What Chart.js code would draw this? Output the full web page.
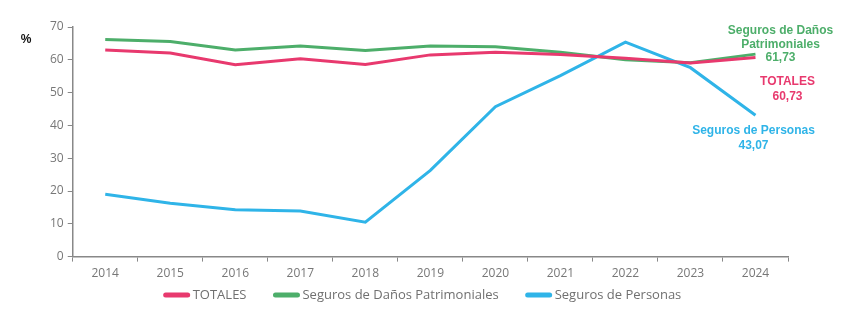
<!DOCTYPE html>
<html>
<head>
<meta charset="utf-8">
<script src="https://cdn.jsdelivr.net/npm/chart.js@4"></script>
<style>
  html, body { margin: 0; padding: 0; background: #fff; }
  #wrap { width: 860px; height: 333px; position: relative; }
</style>
</head>
<body>
<div id="wrap"><canvas id="c" width="860" height="333"></canvas></div>
<script>
const years = ['2014', '2015', '2016', '2017', '2018', '2019', '2020', '2021', '2022', '2023', '2024']
const totales = [63.0, 62.1, 58.5, 60.3, 58.6, 61.5, 62.3, 61.6, 60.5, 59.0, 60.73]
const danos = [66.2, 65.6, 63.0, 64.2, 62.8, 64.2, 64.0, 62.3, 60.0, 59.1, 61.73]
const personas = [19.0, 16.3, 14.3, 13.9, 10.5, 26.3, 45.7, 55.2, 65.4, 57.6, 43.07]

const RED = '#e8396e'
const GREEN = '#4dae6a'
const BLUE = '#2fb4e8'

// end-of-line labels, offset from the last point of each series
const endLabels = [
  { ds: 1, color: GREEN, dx: 25, lines: ['Seguros de Daños', 'Patrimoniales', '61,73'], top: 31, gap: 13.5 },
  { ds: 0, color: RED, dx: 32, lines: ['TOTALES', '60,73'], top: 82, gap: 15 },
  { ds: 2, color: BLUE, dx: -2, lines: ['Seguros de Personas', '43,07'], top: 131, gap: 15 },
]

const labelPlugin = {
  id: 'endLabels',
  afterDraw(chart) {
    const ctx = chart.ctx
    ctx.save()
    ctx.font = 'bold 12px "Liberation Sans", Arial, sans-serif'
    ctx.textAlign = 'center'
    ctx.textBaseline = 'middle'
    endLabels.forEach(l => {
      const pt = chart.getDatasetMeta(l.ds).data[years.length - 1]
      ctx.fillStyle = l.color
      l.lines.forEach((t, i) => {
        ctx.fillText(t, pt.x + l.dx, l.top + i * l.gap)
      })
    })
    ctx.fillStyle = '#111'
    ctx.fillText('%', 26, 40)
    ctx.restore()
  },
}

// legend row drawn under the axis (built-in one sits too far down)
const legendPlugin = {
  id: 'bottomLegend',
  afterDraw(chart) {
    const ctx = chart.ctx
    const sw = 26, gapText = 3, gapItem = 27, y = 295
    ctx.save()
    ctx.font = '13px "Open Sans", sans-serif'
    ctx.textBaseline = 'middle'
    const items = chart.data.datasets.map(d => ({ text: d.label, color: d.borderColor, w: ctx.measureText(d.label).width }))
    const total = items.reduce((s, it) => s + sw + gapText + it.w, 0) + gapItem * (items.length - 1)
    let x = 422.5 - total / 2
    items.forEach(it => {
      ctx.strokeStyle = it.color
      ctx.lineWidth = 5
      ctx.lineCap = 'round'
      ctx.beginPath()
      ctx.moveTo(x + 2, y)
      ctx.lineTo(x + sw - 2, y)
      ctx.stroke()
      ctx.fillStyle = '#707070'
      ctx.fillText(it.text, x + sw + gapText, y)
      x += sw + gapText + it.w + gapItem
    })
    ctx.restore()
  },
}

new Chart(document.getElementById('c'), {
  type: 'line',
  data: {
    labels: years,
    datasets: [
      { label: 'TOTALES', data: totales, borderColor: RED, backgroundColor: RED },
      { label: 'Seguros de Daños Patrimoniales', data: danos, borderColor: GREEN, backgroundColor: GREEN },
      { label: 'Seguros de Personas', data: personas, borderColor: BLUE, backgroundColor: BLUE },
    ],
  },
  options: {
    responsive: false,
    animation: false,
    layout: { padding: { left: 46, right: 72, top: 27, bottom: 47 } },
    elements: {
      line: { borderWidth: 3, tension: 0 },
      point: { radius: 0 },
    },
    plugins: {
      legend: { display: false },
      tooltip: { enabled: false },
    },
    scales: {
      x: {
        offset: true,
        grid: { display: true, drawOnChartArea: false, offset: true, tickLength: 5, color: '#888' },
        border: { color: '#888', width: 1.5 },
        ticks: { color: '#777', padding: 5, font: { family: '"Open Sans", sans-serif', size: 12 } },
      },
      y: {
        min: 0,
        max: 70,
        ticks: { stepSize: 10, color: '#777', padding: 4, font: { family: '"Open Sans", sans-serif', size: 12 } },
        grid: { drawOnChartArea: false, tickLength: 5, color: '#888' },
        border: { color: '#888', width: 1.5 },
      },
    },
  },
  plugins: [labelPlugin, legendPlugin],
})
</script>
</body>
</html>
